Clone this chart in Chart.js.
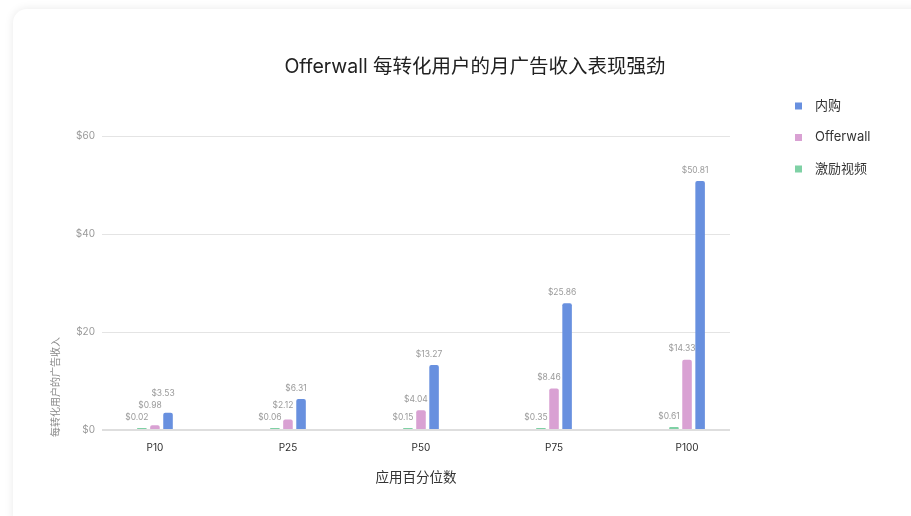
<!DOCTYPE html>
<html>
<head>
<meta charset="utf-8">
<script src="https://cdn.jsdelivr.net/npm/chart.js@4.4.1/dist/chart.umd.min.js"></script>
<style>
  html, body { margin: 0; padding: 0; background: #fff; width: 911px; height: 516px; overflow: hidden; }
  .card { position: absolute; left: 13px; top: 9px; width: 940px; height: 520px; background: #fff;
          border-radius: 14px; box-shadow: 0 0 10px rgba(0,0,0,0.09); }
  #c { position: absolute; left: 0; top: 0; }
</style>
</head>
<body>
<div class="card"></div>
<canvas id="c" width="911" height="516"></canvas>
<script>
// Monthly ad revenue per converted user, by app percentile
const percentiles    = ['P10', 'P25', 'P50', 'P75', 'P100'];
const rewardedVideo  = [0.02, 0.06, 0.15, 0.35, 0.61];
const offerwall      = [0.98, 2.12, 4.04, 8.46, 14.33];
const inAppPurchase  = [3.53, 6.31, 13.27, 25.86, 50.81];
const yTickValues    = [0, 20, 40, 60];

const seriesNames  = ['激励视频', 'Offerwall', '内购'];
const seriesValues = [rewardedVideo, offerwall, inAppPurchase];
const seriesColors = ['#7fd1a5', '#d9a1d3', '#6890df'];

const chartTitle = 'Offerwall 每转化用户的月广告收入表现强劲';
const xTitle = '应用百分位数';
const yTitle = '每转化用户的广告收入';

const FONT = 'Inter, "Noto Sans CJK SC", sans-serif';

const money = v => '$' + v.toFixed(2);

// Value labels above each bar; labels in one group are nudged up if they collide
const valueLabels = {
  id: 'valueLabels',
  afterDatasetsDraw(chart) {
    const ctx = chart.ctx;
    ctx.save();
    ctx.font = '8.5px ' + FONT;
    ctx.fillStyle = '#9b9b9b';
    ctx.textAlign = 'center';
    ctx.textBaseline = 'middle';
    const h = 10;
    percentiles.forEach((_, i) => {
      let prevTop = null;
      chart.data.datasets.forEach((ds, d) => {
        const el = chart.getDatasetMeta(d).data[i];
        let cy = el.y - 11;
        if (prevTop !== null && cy + h / 2 > prevTop) cy = prevTop - 2 - h / 2;
        ctx.fillText(money(ds.data[i].y), el.x - 5, cy);
        prevTop = cy - h / 2;
      });
    });
    ctx.restore();
  }
};

// Title, vertical axis caption and the legend list on the right
const decorations = {
  id: 'decorations',
  afterDraw(chart) {
    const ctx = chart.ctx;
    ctx.save();
    ctx.textBaseline = 'middle';

    ctx.font = '19.5px ' + FONT;
    ctx.fillStyle = '#212121';
    ctx.textAlign = 'center';
    ctx.fillText(chartTitle, 475, 67);

    ctx.save();
    ctx.translate(56, 387);
    ctx.rotate(-Math.PI / 2);
    ctx.font = '10px ' + FONT;
    ctx.fillStyle = '#8a8a8a';
    ctx.fillText(yTitle, 0, 0);
    ctx.restore();

    ctx.font = '13px ' + FONT;
    ctx.textAlign = 'left';
    const order = chart.data.datasets.map((_, k) => k).reverse();
    order.forEach((k, n) => {
      const ds = chart.data.datasets[k];
      const y = 106 + n * 31.5;
      ctx.fillStyle = ds.backgroundColor;
      ctx.fillRect(795, y - 3.5, 7, 7);
      ctx.fillStyle = '#333';
      ctx.fillText(ds.label, 815, y);
    });
    ctx.restore();
  }
};

const datasets = seriesNames.map((name, k) => ({
  label: name,
  data: seriesValues[k].map((v, i) => ({ x: i, y: v })),
  backgroundColor: seriesColors[k],
  borderRadius: 2,
  minBarLength: 2,
  categoryPercentage: 0.295,
  barPercentage: 0.73
}));

new Chart(document.getElementById('c'), {
  type: 'bar',
  data: { datasets },
  plugins: [valueLabels, decorations],
  options: {
    responsive: false,
    animation: false,
    layout: { padding: { left: 0, top: 136, right: 181, bottom: 26 } },
    plugins: { legend: { display: false }, tooltip: { enabled: false }, title: { display: false } },
    scales: {
      x: {
        type: 'linear',
        min: -0.398,
        max: 4.323,
        offset: false,
        grid: { display: false, drawTicks: false },
        border: { display: false },
        ticks: {
          stepSize: 1,
          includeBounds: false,
          autoSkip: false,
          maxRotation: 0,
          padding: 12,
          color: '#2e2e2e',
          font: { family: FONT, size: 10 },
          callback: v => percentiles[v] ?? ''
        },
        title: {
          display: true,
          text: xTitle,
          color: '#333',
          font: { family: FONT, size: 13.5 },
          padding: { top: 0, bottom: 4 }
        },
        afterFit: s => { s.height = 60; }
      },
      y: {
        min: 0,
        max: 60,
        grid: {
          drawTicks: false,
          color: c => c.tick && c.tick.value === 0 ? '#dedede' : '#e4e4e4',
          lineWidth: c => c.tick && c.tick.value === 0 ? 2 : 1
        },
        border: { display: false },
        afterBuildTicks: s => { s.ticks = yTickValues.map(v => ({ value: v })); },
        ticks: {
          padding: 7,
          color: '#9a9a9a',
          font: { family: FONT, size: 10 },
          callback: v => '$' + v
        },
        afterFit: s => { s.width = 102; }
      }
    }
  }
});
</script>
</body>
</html>
